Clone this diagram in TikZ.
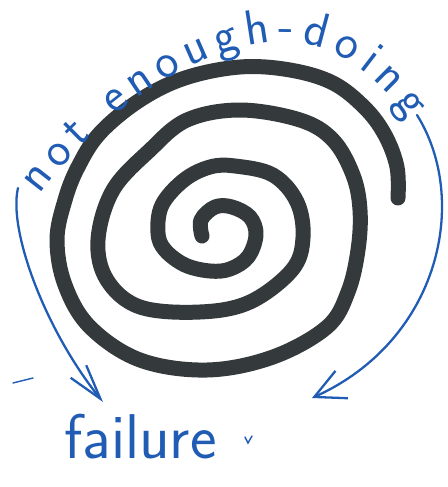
\documentclass[tikz,border=0pt]{standalone}
\usepackage{xcolor}
\usepackage{tikz}
\usetikzlibrary{arrows.meta, decorations.text}
\definecolor{inkblue}{RGB}{32,92,180}
\definecolor{marker}{RGB}{52,58,60}

\begin{document}
\begin{tikzpicture}[x=0.02cm, y=-0.02cm,
        spiral/.style={draw=marker, line width=0.3cm, line cap=round, line join=round},
        pen/.style={draw=inkblue, line width=1.3pt, line cap=round},
        hand/.style={text=inkblue, inner sep=0pt, font=\sffamily\fontsize{36}{36}\selectfont}]
        \useasboundingbox (0,0) rectangle (447,487);
        % Spiral
        \draw[spiral] plot[smooth, tension=0.6] coordinates {(202,236) (201,220) (215,207) (232,207) (250,217) (256,235) (248,257) (230,269) (210,271) (185,265) (165,250) (158,233) (162,205) (184,180) (210,167) (235,166) (273,175) (297,202) (303,238) (292,270) (250,302) (200,312) (140,307) (107,280) (98,240) (113,190) (150,150) (187,120) (240,110) (300,120) (333,140) (353,175) (360,210) (358,250) (348,292) (327,327) (273,357) (207,370) (140,360) (90,327) (65,285) (57,240) (65,200) (78,167) (100,133) (140,100) (185,78) (240,67) (290,70) (333,83) (365,108) (385,135) (397,167) (398,198)};
        % Label
        \path[decorate, decoration={text along path, text align={fit to path},
            text={|\color{inkblue}\sffamily\fontsize{28}{28}\selectfont|not enough-doing}}]
            (40,195) .. controls (110,100) and (210,42) .. (285,42) .. controls (340,42) and (385,85) .. (408,120);
        \node (failure) [hand, anchor=base west] at (64,458) {failure};
        % Arrows
        \coordinate (lstart) at (18,188);
        \coordinate (ltip) at (103,402);
        \coordinate (rstart) at (417,115);
        \coordinate (rtip) at (312,398);
        \draw[pen, -{Straight Barb[length=0.7cm, width=0.4cm]}] (lstart) .. controls (8,230) and (45,330) .. (ltip);
        \draw[pen, -{Straight Barb[length=0.6cm, width=0.6cm]}] (rstart) .. controls (470,200) and (440,340) .. (rtip);
        % Stray marks
        \draw[pen, line width=0.8pt] (13,383) -- (33,378);
        \draw[pen, line width=0.8pt] (245,437) -- (248,443) -- (252,436);
    \end{tikzpicture}
\end{document}
